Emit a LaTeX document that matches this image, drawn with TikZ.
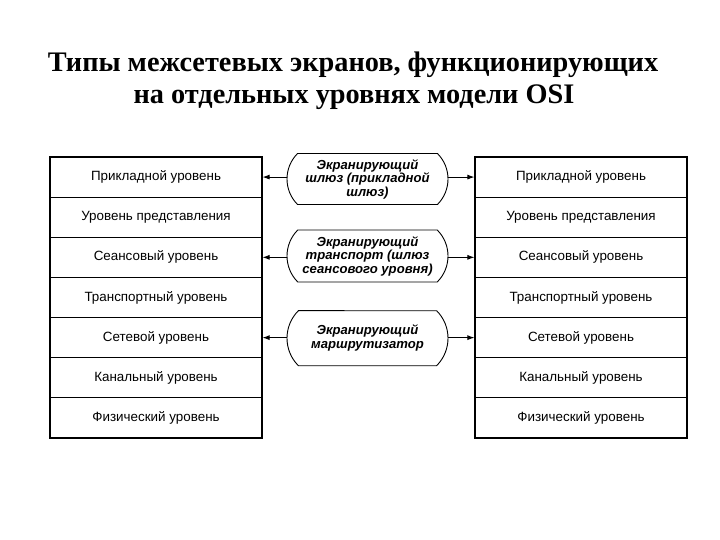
\documentclass[tikz,border=0pt]{standalone}
\usepackage{fontspec}
\setmainfont{Liberation Sans}
\newfontfamily\titlefont{Liberation Serif}
\usetikzlibrary{shapes.misc,arrows.meta}
\begin{document}
\begin{tikzpicture}[x=1pt,y=-1pt,
  titletext/.style={font=\titlefont\fontsize{28.3}{30}\selectfont\bfseries,anchor=base,inner sep=0pt},
  layer/.style={draw,line width=1.1pt,minimum width=212pt,minimum height=40.14pt,
    inner sep=0pt,font=\fontsize{13.4}{15}\selectfont},
  gate/.style={draw,line width=0.9pt,rounded rectangle,rounded rectangle arc length=90,
    minimum width=165pt,inner sep=2pt,align=center,
    font=\fontsize{13.1}{13.5}\selectfont\bfseries\itshape},
  arr/.style={line width=0.9pt,-{Latex[length=7pt,width=5pt]}}]
\useasboundingbox (0,0) rectangle (720,540);
\node[titletext] (title1) at (353,72) {Типы межсетевых экранов, функционирующих};
\node[titletext] (title2) at (354,104) {на отдельных уровнях модели OSI};
\foreach \i/\t in {1/Прикладной уровень,2/Уровень представления,3/Сеансовый уровень,
  4/Транспортный уровень,5/Сетевой уровень,6/Канальный уровень,7/Физический уровень}{
  \node[layer] (L\i) at (156,{157+40.14*(\i-0.5)}) {\t};
  \node[layer] (R\i) at (581,{157+40.14*(\i-0.5)}) {\t};
}
\node[gate,minimum height=51pt] (G1) at (367.5,179) {Экранирующий\\шлюз (прикладной\\шлюз)};
\node[gate,minimum height=52pt] (G2) at (367.5,256) {Экранирующий\\транспорт (шлюз\\сеансового уровня)};
\node[gate,minimum height=55pt] (G3) at (367.5,338.2) {Экранирующий\\маршрутизатор};
\foreach \g/\r in {G1/1,G2/3,G3/5}{
  \draw[arr] (\g.west |- L\r.east) -- (L\r.east);
  \draw[arr] (\g.east |- R\r.west) -- (R\r.west);
}
\end{tikzpicture}
\end{document}
